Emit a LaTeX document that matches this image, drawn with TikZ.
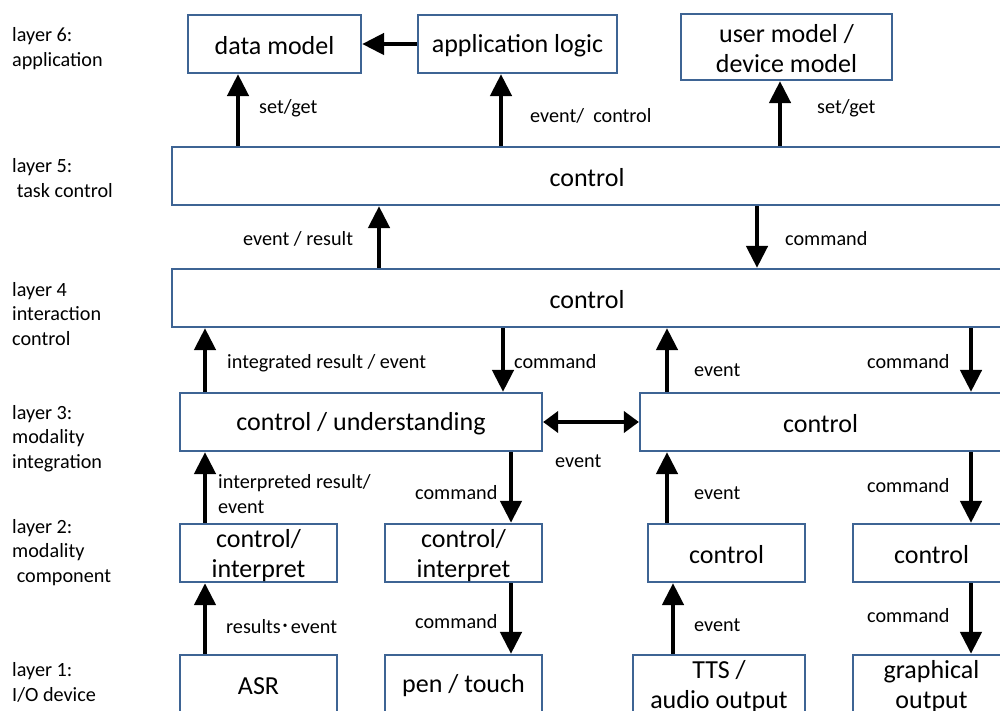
\documentclass[tikz,border=0pt]{standalone}
\usepackage{fontspec}
\setmainfont{Carlito}
\newfontfamily\cjk{Noto Sans CJK JP}
\usetikzlibrary{arrows.meta}
\definecolor{boxblue}{RGB}{62,100,148}
\newcommand\bigtxt{\fontsize{26}{30}\selectfont}
\newcommand\smalltxt{\fontsize{20.2}{24.6}\selectfont}

\begin{document}
\begin{tikzpicture}[x=1pt,y=-1pt,
  box/.style={draw=boxblue, line width=2.2pt, fill=white, inner sep=0pt,
    align=center, font=\bigtxt, minimum height=58pt,
    execute at begin node={\rule{0pt}{22pt}}},
  twoline/.style={execute at begin node={\rule{0pt}{#1}}},
  twoline/.default=54pt,
  arr/.style={line width=4.6pt, -{Triangle[width=21pt,length=22pt]}},
  dbl/.style={line width=4pt,
    {Triangle[width=21pt,length=15pt]}-{Triangle[width=21pt,length=15pt]}},
  lbl/.style={anchor=base west, inner sep=0pt, font=\smalltxt, align=left},
]
\fill[white] (0,0) rectangle (1000,711);
\useasboundingbox (0,0) rectangle (1000,711);
\clip (0,0) rectangle (1000,711);

% layer names (anchored at the baseline of the last line)
\node[lbl] (n6) at (12,66.5)  {layer 6:\\application};
\node[lbl] (n5) at (12,197.5) {layer 5:\\\ task control};
\node[lbl] (n4) at (12,345.5) {layer 4\\interaction\\control};
\node[lbl] (n3) at (12,468.5) {layer 3:\\modality\\integration};
\node[lbl] (n2) at (12,582.5) {layer 2:\\modality\\\ component};
\node[lbl] (n1) at (12,701.5) {layer 1:\\I/O device};

% layer 6
\node[box, minimum width=173pt] (dm) at (274.5,44) {data model};
\node[box, minimum width=199pt] (al) at (517.5,44) {application logic};
\node[box, twoline=51pt, minimum width=211pt, minimum height=66pt] (um) at (786.5,47) {user model /\\device model};

% layers 5 and 4
\node[box, minimum width=830pt] (l5) at (587,176) {control};
\node[box, minimum width=830pt] (l4) at (587,298) {control};

% layer 3
\node[box, minimum width=362pt] (cu) at (361,422) {control / understanding};
\node[box, minimum width=361pt] (c3) at (820.5,422) {control};

% layer 2
\node[box, twoline, minimum width=157pt] (ci1) at (258.5,553) {control/\\interpret};
\node[box, twoline, minimum width=157pt] (ci2) at (463.5,553) {control/\\interpret};
\node[box, minimum width=157pt] (c2a) at (726.5,553) {control};
\node[box, minimum width=157pt] (c2b) at (931.5,553) {control};

% layer 1
\node[box, minimum width=157pt] (asr) at (258.5,684) {ASR};
\node[box, minimum width=157pt] (pen) at (463.5,684) {pen / touch};
\node[box, twoline, minimum width=172pt] (tts) at (719,684) {TTS /\\audio output};
\node[box, twoline, minimum width=157pt] (gr)  at (931.5,684) {graphical\\output};

% arrow columns
\coordinate (xa) at (238,0);
\coordinate (xb) at (501,0);
\coordinate (xc) at (780,0);
\coordinate (xd) at (379,0);
\coordinate (xe) at (757,0);
\coordinate (xf) at (205,0);
\coordinate (xg) at (503,0);
\coordinate (xh) at (667,0);
\coordinate (xi) at (971,0);
\coordinate (xj) at (511,0);
\coordinate (xk) at (673,0);

% connectors
\draw[arr] (al.west) -- (dm.east);
\draw[arr] (l5.north -| xa) -- (dm.south -| xa);
\draw[arr] (l5.north -| xb) -- (al.south -| xb);
\draw[arr] (l5.north -| xc) -- (um.south -| xc);

\draw[arr] (l4.north -| xd) -- (l5.south -| xd);
\draw[arr] (l5.south -| xe) -- (l4.north -| xe);

\draw[arr] (cu.north -| xf) -- (l4.south -| xf);
\draw[arr] (l4.south -| xg) -- (cu.north -| xg);
\draw[arr] (c3.north -| xh) -- (l4.south -| xh);
\draw[arr] (l4.south -| xi) -- (c3.north -| xi);
\draw[dbl] (cu.east) -- (c3.west);

\draw[arr] (ci1.north -| xf) -- (cu.south -| xf);
\draw[arr] (cu.south -| xj) -- (ci2.north -| xj);
\draw[arr] (c2a.north -| xh) -- (c3.south -| xh);
\draw[arr] (c3.south -| xi) -- (c2b.north -| xi);

\draw[arr] (asr.north -| xf) -- (ci1.south -| xf);
\draw[arr] (ci2.south -| xj) -- (pen.north -| xj);
\draw[arr] (tts.north -| xk) -- (c2a.south -| xk);
\draw[arr] (c2b.south -| xi) -- (gr.north -| xi);

% connector labels
\node[lbl] (t1) at (259,114) {set/get};
\node[lbl] (t2) at (530,123) {event/\ \ control};
\node[lbl] (t3) at (817,114) {set/get};
\node[lbl] (t4) at (243,245) {event / result};
\node[lbl] (t5) at (785,245) {command};
\node[lbl] (t6) at (227,368) {integrated result / event};
\node[lbl] (t7) at (514,368) {command};
\node[lbl] (t8) at (694,376) {event};
\node[lbl] (t9) at (867,368) {command};
\node[lbl] (t10) at (555,467) {event};
\node[lbl] (t11) at (218,513) {interpreted result/\\event};
\node[lbl] (t12) at (415,499) {command};
\node[lbl] (t13) at (694,499) {event};
\node[lbl] (t14) at (867,492) {command};
\node[lbl] (t15) at (226,633) {results{\cjk ･}event};
\node[lbl] (t16) at (415,628) {command};
\node[lbl] (t17) at (694,631) {event};
\node[lbl] (t18) at (867,622) {command};
\end{tikzpicture}
\end{document}
